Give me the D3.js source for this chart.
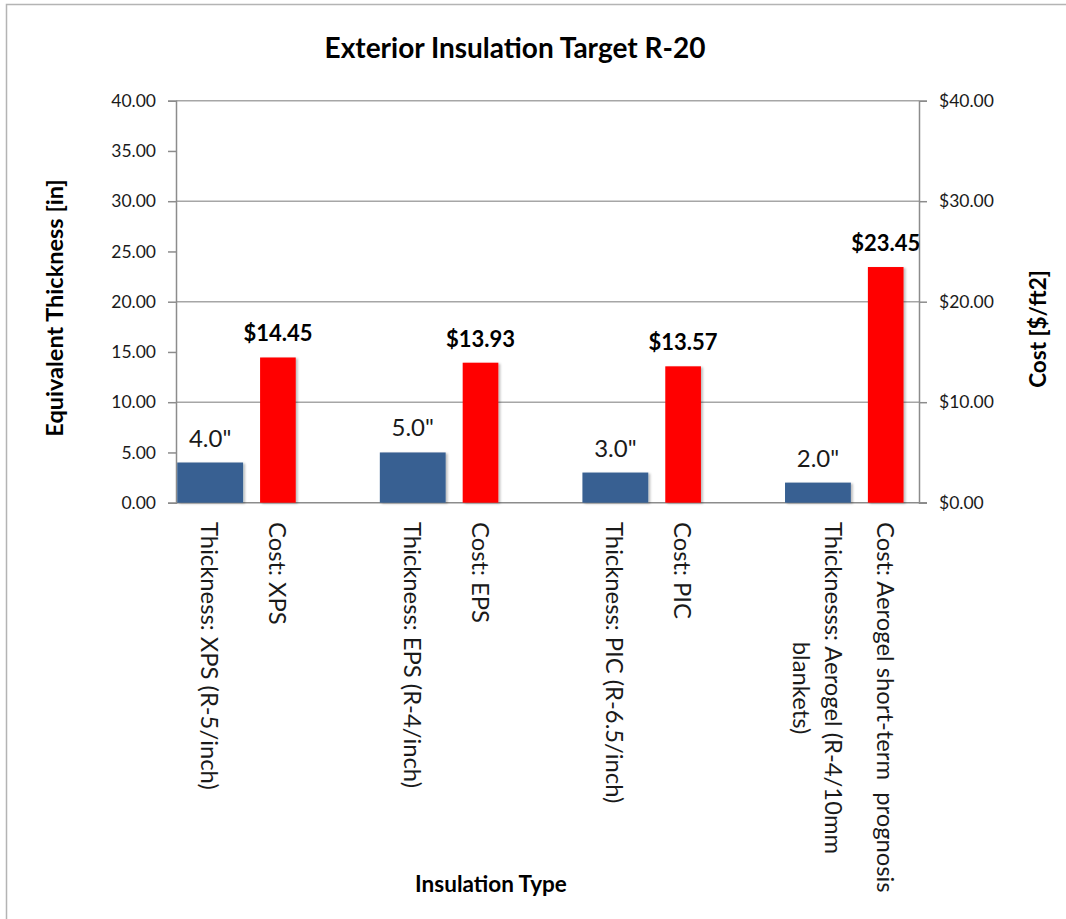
<!DOCTYPE html>
<html>
<head>
<meta charset="utf-8">
<script src="https://cdn.jsdelivr.net/npm/d3@7/dist/d3.min.js"></script>
<style>
  html, body { margin: 0; padding: 0; background: #fff; }
  svg { display: block; }
  text { font-family: "Lato", "Open Sans", sans-serif; fill: #1a1a1a; }
</style>
</head>
<body>
<svg id="chart" width="1066" height="919"></svg>
<script>
// ---- data ----
const categories = ["XPS", "EPS", "PIC", "Aerogel"];
const thicknessValues = [4.0, 5.0, 3.0, 2.0];
const costValues = [14.45, 13.93, 13.57, 23.45];
const thicknessLabels = [
  ["Thickness: XPS (R-5/inch)"],
  ["Thickness: EPS (R-4/inch)"],
  ["Thickness: PIC (R-6.5/inch)"],
  ["Thicknesss: Aerogel (R-4/10mm", "blankets)"]
];
const costLabels = [
  ["Cost: XPS"],
  ["Cost: EPS"],
  ["Cost: PIC"],
  ["Cost: Aerogel short-term  prognosis"]
];
const leftTicks = [0, 5, 10, 15, 20, 25, 30, 35, 40];
const rightTicks = [0, 10, 20, 30, 40];
const titleText = "Exterior Insulation Target R-20";
const leftAxisTitle = "Equivalent Thickness [in]";
const rightAxisTitle = "Cost [$/ft2]";
const xAxisTitle = "Insulation Type";

// ---- layout ----
const svg = d3.select("#chart");
const plot = { left: 176, right: 919, top: 100.7, bottom: 502.7 };
const blue = "#386192", red = "#ff0000";
const gridColor = "#a6a6a6", axisColor = "#8c8c8c";

// chart border
svg.append("rect")
  .attr("x", 6.5).attr("y", 4.5).attr("width", 1200).attr("height", 1000)
  .attr("fill", "none").attr("stroke", "#b4b4b4").attr("stroke-width", 1.5);

const defs = svg.append("defs");
const f = defs.append("filter").attr("id", "shadow")
  .attr("x", "-20%").attr("y", "-20%").attr("width", "140%").attr("height", "140%");
f.append("feDropShadow").attr("dx", 2).attr("dy", 1).attr("stdDeviation", 1.2)
  .attr("flood-color", "#000").attr("flood-opacity", 0.25);

const yL = d3.scaleLinear().domain([0, 40]).range([plot.bottom, plot.top]);
const yR = d3.scaleLinear().domain([0, 40]).range([plot.bottom, plot.top]);
const step = 202.6;
const x = d3.scaleBand().domain(categories)
  .range([plot.left, plot.left + step * categories.length]).padding(0);
const bw = x.bandwidth();
const blueX = c => x(c) + bw * 0.006, blueW = bw * 0.325;
const redX = c => x(c) + bw * 0.415, redW = bw * 0.176;

// gridlines (from right-axis ticks)
svg.append("g").selectAll("line").data(rightTicks.filter(d => d > 0)).join("line")
  .attr("x1", plot.left).attr("x2", plot.right)
  .attr("y1", d => yR(d)).attr("y2", d => yR(d))
  .attr("stroke", gridColor).attr("stroke-width", 1.5);

// left axis
const gL = svg.append("g").attr("transform", `translate(${plot.left},0)`)
  .call(d3.axisLeft(yL).tickValues(leftTicks).tickFormat(d3.format(".2f")).tickSize(8).tickPadding(12));
gL.select(".domain").attr("stroke", axisColor).attr("stroke-width", 1.5);
gL.selectAll(".tick line").attr("stroke", axisColor).attr("stroke-width", 1.5);
gL.selectAll(".tick text").attr("font-size", 17.5).attr("font-family", "Lato").attr("fill", "#1a1a1a");

// right axis
const gR = svg.append("g").attr("transform", `translate(${plot.right},0)`)
  .call(d3.axisRight(yR).tickValues(rightTicks).tickFormat(d => "$" + d3.format(".2f")(d)).tickSize(8).tickPadding(12));
gR.select(".domain").attr("stroke", axisColor).attr("stroke-width", 1.5);
gR.selectAll(".tick line").attr("stroke", axisColor).attr("stroke-width", 1.5);
gR.selectAll(".tick text").attr("font-size", 17.5).attr("font-family", "Lato").attr("fill", "#1a1a1a");

// bottom axis line
svg.append("line").attr("x1", plot.left).attr("x2", plot.right + 8)
  .attr("y1", yL(0)).attr("y2", yL(0)).attr("stroke", axisColor).attr("stroke-width", 1.5);

// bars
svg.append("g").selectAll("rect").data(categories).join("rect")
  .attr("x", c => blueX(c)).attr("width", blueW)
  .attr("y", (c, i) => yL(thicknessValues[i]))
  .attr("height", (c, i) => yL(0) - yL(thicknessValues[i]))
  .attr("fill", blue).attr("filter", "url(#shadow)");
svg.append("g").selectAll("rect").data(categories).join("rect")
  .attr("x", c => redX(c)).attr("width", redW)
  .attr("y", (c, i) => yR(costValues[i]))
  .attr("height", (c, i) => yR(0) - yR(costValues[i]))
  .attr("fill", red).attr("filter", "url(#shadow)");

// data labels
svg.append("g").selectAll("text").data(categories).join("text")
  .attr("x", c => blueX(c) + blueW / 2)
  .attr("y", (c, i) => yL(thicknessValues[i]) - 16)
  .attr("text-anchor", "middle").attr("font-size", 24)
  .text((c, i) => d3.format(".1f")(thicknessValues[i]) + '"');
svg.append("g").selectAll("text").data(categories).join("text")
  .attr("x", c => redX(c) + redW / 2)
  .attr("y", (c, i) => yR(costValues[i]) - 16)
  .attr("text-anchor", "middle").attr("font-size", 22).attr("font-weight", "bold")
  .style("fill", "#000")
  .text((c, i) => "$" + d3.format(".2f")(costValues[i]));

// category labels (rotated, multi-line)
function catLabel(cx, lines) {
  const g = svg.append("g").attr("transform", `translate(${cx},522) rotate(90)`);
  const lh = 32;
  const n = lines.length;
  const ts = lines.map((ln, i) => g.append("text")
    .attr("y", (i - (n - 1) / 2) * lh)
    .attr("dominant-baseline", "central")
    .attr("font-size", 23.8)
    .style("white-space", "pre")
    .text(ln));
  const maxL = d3.max(ts, t => t.node().getComputedTextLength());
  ts.forEach(t => t.attr("x", maxL / 2).attr("text-anchor", "middle"));
}
categories.forEach((c, i) => {
  catLabel(blueX(c) + blueW / 2, thicknessLabels[i]);
  catLabel(redX(c) + redW / 2, costLabels[i]);
});

// titles
svg.append("text").attr("x", 515).attr("y", 58).attr("text-anchor", "middle")
  .attr("font-size", 28).attr("font-weight", "bold").style("fill", "#000").text(titleText);
svg.append("text").attr("transform", `translate(54,308) rotate(-90)`)
  .attr("text-anchor", "middle").attr("dominant-baseline", "central")
  .attr("font-size", 23.5).attr("font-weight", "bold").style("fill", "#000").text(leftAxisTitle);
svg.append("text").attr("transform", `translate(1037,329) rotate(-90)`)
  .attr("text-anchor", "middle").attr("dominant-baseline", "central")
  .attr("font-size", 22.5).attr("font-weight", "bold").style("fill", "#000").text(rightAxisTitle);
svg.append("text").attr("x", 491).attr("y", 892).attr("text-anchor", "middle")
  .attr("font-size", 22.5).attr("font-weight", "bold").style("fill", "#000").text(xAxisTitle);
</script>
</body>
</html>
